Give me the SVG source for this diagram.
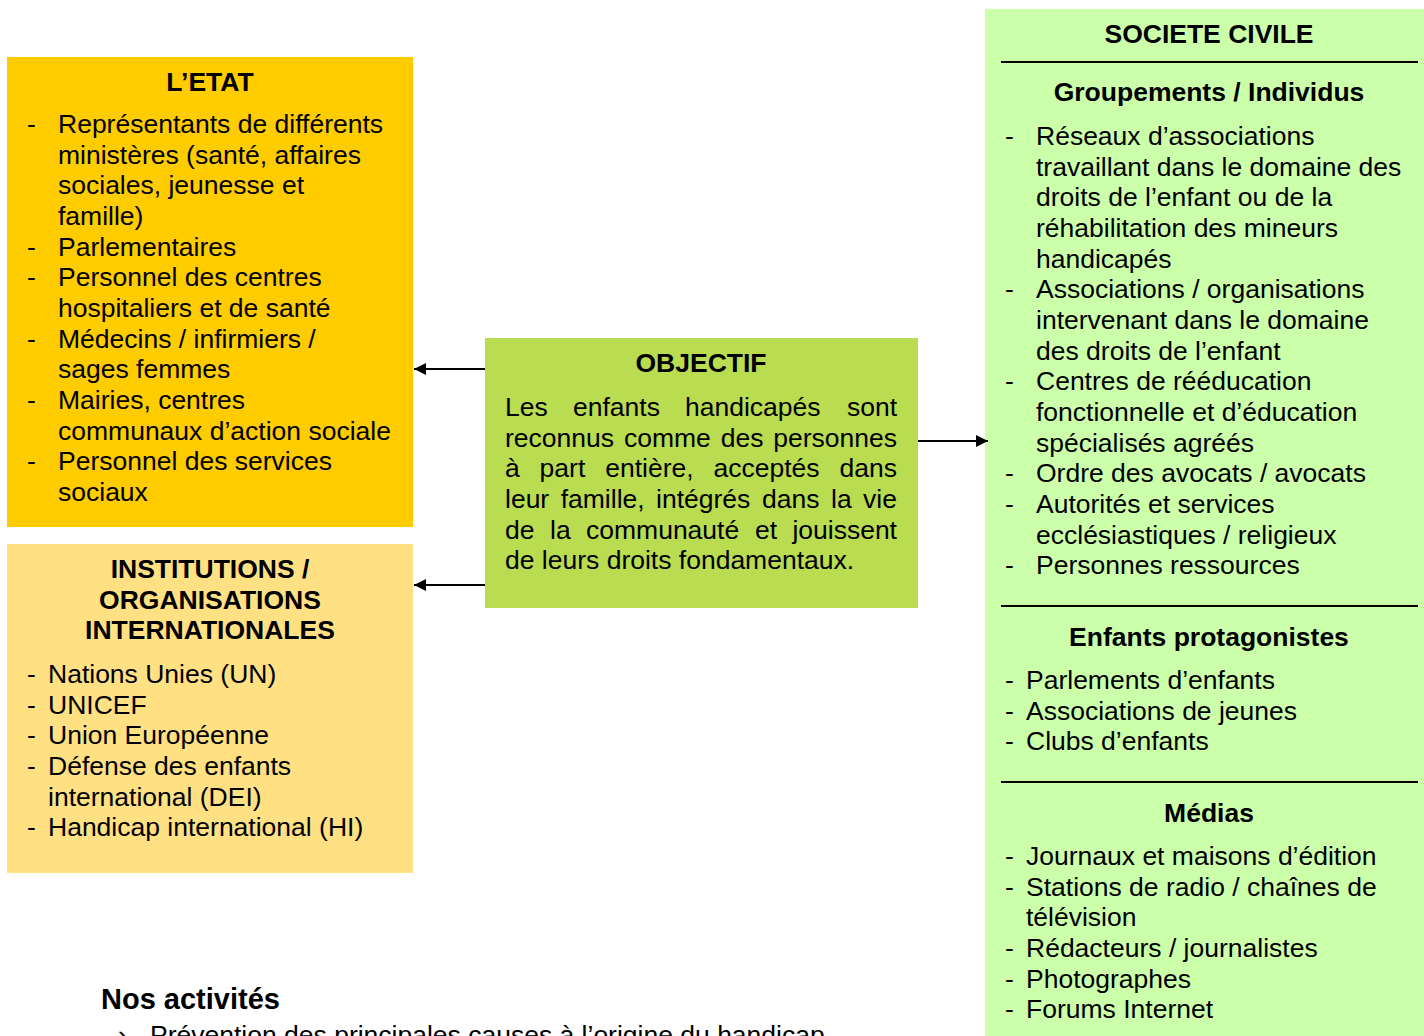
<svg xmlns="http://www.w3.org/2000/svg" width="1424" height="1036" viewBox="0 0 1424 1036">
<style>
text{font-family:"Liberation Sans",Arial,sans-serif;font-size:26.5px;fill:#000}
.b{font-weight:bold}
.c{text-anchor:middle}
.e{text-anchor:end}
.sep{stroke:#000;stroke-width:2}
.conn{stroke:#000;stroke-width:2;fill:none}
</style>
<defs>
<marker id="ah" viewBox="0 0 10 10" refX="10" refY="5" markerWidth="7" markerHeight="6" markerUnits="strokeWidth" orient="auto">
<path d="M0,0 L10,5 L0,10 z" fill="#000"/>
</marker>
</defs>
<rect width="1424" height="1036" fill="#fff"/>

<g id="etat">
<rect x="7" y="57" width="406" height="470" fill="#FFCC00"/>
<text class="b c" x="210" y="91">L’ETAT</text>
<text x="27" y="133">-</text><text x="58" y="133">Représentants de différents</text>
<text x="58" y="163.7">ministères (santé, affaires</text>
<text x="58" y="194.3">sociales, jeunesse et</text>
<text x="58" y="225">famille)</text>
<text x="27" y="255.7">-</text><text x="58" y="255.7">Parlementaires</text>
<text x="27" y="286.3">-</text><text x="58" y="286.3">Personnel des centres</text>
<text x="58" y="317">hospitaliers et de santé</text>
<text x="27" y="347.7">-</text><text x="58" y="347.7">Médecins / infirmiers /</text>
<text x="58" y="378.3">sages femmes</text>
<text x="27" y="409">-</text><text x="58" y="409">Mairies, centres</text>
<text x="58" y="439.7">communaux d’action sociale</text>
<text x="27" y="470.3">-</text><text x="58" y="470.3">Personnel des services</text>
<text x="58" y="501">sociaux</text>
</g>

<g id="institutions">
<rect x="7" y="544" width="406" height="329" fill="#FFE183"/>
<text class="b c" x="210" y="578">INSTITUTIONS /</text>
<text class="b c" x="210" y="608.7">ORGANISATIONS</text>
<text class="b c" x="210" y="639.3">INTERNATIONALES</text>
<text x="27" y="683">-</text><text x="48" y="683">Nations Unies (UN)</text>
<text x="27" y="713.7">-</text><text x="48" y="713.7">UNICEF</text>
<text x="27" y="744.3">-</text><text x="48" y="744.3">Union Européenne</text>
<text x="27" y="775">-</text><text x="48" y="775">Défense des enfants</text>
<text x="48" y="805.7">international (DEI)</text>
<text x="27" y="836.3">-</text><text x="48" y="836.3">Handicap international (HI)</text>
</g>

<g id="objectif">
<rect x="485" y="338" width="433" height="270" fill="#B9DC50"/>
<text class="b c" x="701" y="372">OBJECTIF</text>
<text y="416"><tspan x="505">Les</tspan><tspan x="573">enfants</tspan><tspan x="685">handicapés</tspan><tspan x="847">sont</tspan></text>
<text y="446.7"><tspan x="505">reconnus</tspan><tspan x="623.9">comme</tspan><tspan x="720.7">des</tspan><tspan x="773.3">personnes</tspan></text>
<text y="477.3"><tspan x="505">à</tspan><tspan x="539.6">part</tspan><tspan x="605.2">entière,</tspan><tspan x="713.5">acceptés</tspan><tspan x="839.5">dans</tspan></text>
<text y="508"><tspan x="505">leur</tspan><tspan x="560.7">famille,</tspan><tspan x="656">intégrés</tspan><tspan x="762">dans</tspan><tspan x="831">la</tspan><tspan x="863">vie</tspan></text>
<text y="538.7"><tspan x="505">de</tspan><tspan x="550">la</tspan><tspan x="586">communauté</tspan><tspan x="755">et</tspan><tspan x="792.4">jouissent</tspan></text>
<text x="505" y="569.3">de leurs droits fondamentaux.</text>
</g>

<g id="societe-civile">
<rect x="985" y="9" width="439" height="1027" fill="#CCFFAA"/>
<text class="b c" x="1209" y="43">SOCIETE CIVILE</text>
<line class="sep" x1="1001" y1="62" x2="1418" y2="62"/>
<text class="b c" x="1209" y="101">Groupements / Individus</text>
<text x="1005" y="145">-</text><text x="1036" y="145">Réseaux d’associations</text>
<text x="1036" y="175.7">travaillant dans le domaine des</text>
<text x="1036" y="206.3">droits de l’enfant ou de la</text>
<text x="1036" y="237">réhabilitation des mineurs</text>
<text x="1036" y="267.7">handicapés</text>
<text x="1005" y="298.3">-</text><text x="1036" y="298.3">Associations / organisations</text>
<text x="1036" y="329">intervenant dans le domaine</text>
<text x="1036" y="359.7">des droits de l’enfant</text>
<text x="1005" y="390.3">-</text><text x="1036" y="390.3">Centres de rééducation</text>
<text x="1036" y="421">fonctionnelle et d’éducation</text>
<text x="1036" y="451.7">spécialisés agréés</text>
<text x="1005" y="482.3">-</text><text x="1036" y="482.3">Ordre des avocats / avocats</text>
<text x="1005" y="513">-</text><text x="1036" y="513">Autorités et services</text>
<text x="1036" y="543.7">ecclésiastiques / religieux</text>
<text x="1005" y="574.3">-</text><text x="1036" y="574.3">Personnes ressources</text>
<line class="sep" x1="1001" y1="606" x2="1418" y2="606"/>
<text class="b c" x="1209" y="646">Enfants protagonistes</text>
<text x="1005" y="689">-</text><text x="1026" y="689">Parlements d’enfants</text>
<text x="1005" y="719.7">-</text><text x="1026" y="719.7">Associations de jeunes</text>
<text x="1005" y="750.3">-</text><text x="1026" y="750.3">Clubs d’enfants</text>
<line class="sep" x1="1001" y1="782" x2="1418" y2="782"/>
<text class="b c" x="1209" y="822">Médias</text>
<text x="1005" y="865">-</text><text x="1026" y="865">Journaux et maisons d’édition</text>
<text x="1005" y="895.7">-</text><text x="1026" y="895.7">Stations de radio / chaînes de</text>
<text x="1026" y="926.3">télévision</text>
<text x="1005" y="957">-</text><text x="1026" y="957">Rédacteurs / journalistes</text>
<text x="1005" y="987.7">-</text><text x="1026" y="987.7">Photographes</text>
<text x="1005" y="1018.3">-</text><text x="1026" y="1018.3">Forums Internet</text>
</g>

<g id="connectors">
<line class="conn" x1="485" y1="369" x2="414" y2="369" marker-end="url(#ah)"/>
<line class="conn" x1="485" y1="585" x2="414" y2="585" marker-end="url(#ah)"/>
<line class="conn" x1="918" y1="441" x2="988" y2="441" marker-end="url(#ah)"/>
</g>

<g id="activites">
<text class="b" x="101" y="1009" style="font-size:29px">Nos activités</text>
<text x="118" y="1044">›</text>
<text x="150" y="1044">Prévention des principales causes à l’origine du handicap</text>
</g>
</svg>
